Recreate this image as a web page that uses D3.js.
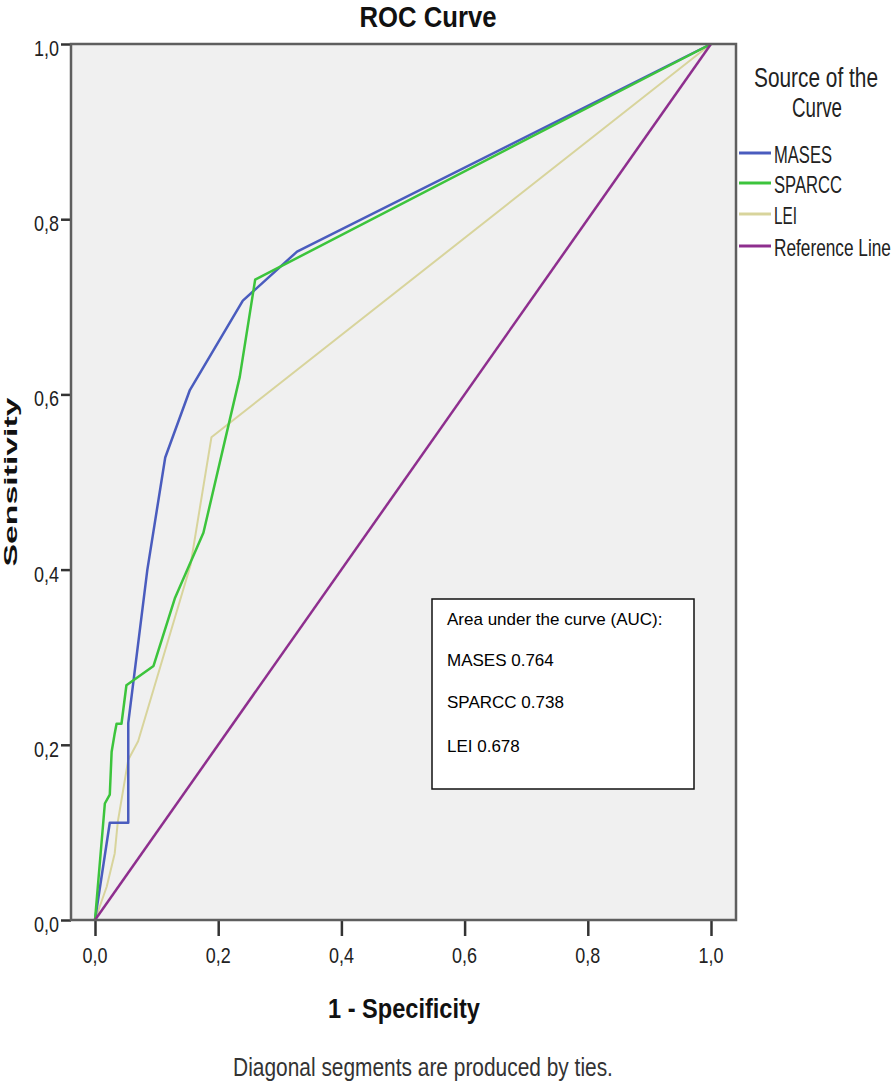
<!DOCTYPE html>
<html>
<head>
<meta charset="utf-8">
<script src="https://cdn.jsdelivr.net/npm/d3@7"></script>
<style>
  body { margin: 0; background: #fff; }
  svg { display: block; }
</style>
</head>
<body>
<div id="chart"></div>
<script>
// Datos de las curvas ROC (1 - especificidad, sensibilidad)
const masesX = [0, 0.024, 0.054, 0.054, 0.085, 0.114, 0.154, 0.240, 0.328, 1.0];
const masesY = [0, 0.111, 0.111, 0.225, 0.400, 0.528, 0.605, 0.707, 0.763, 1.0];

const sparccX = [0, 0.016, 0.024, 0.027, 0.032, 0.035, 0.043, 0.051, 0.095, 0.130, 0.176, 0.235, 0.260, 1.0];
const sparccY = [0, 0.133, 0.143, 0.192, 0.213, 0.224, 0.224, 0.268, 0.290, 0.368, 0.442, 0.620, 0.731, 1.0];

const leiX = [0, 0.019, 0.032, 0.037, 0.054, 0.070, 0.155, 0.189, 1.0];
const leiY = [0, 0.038, 0.076, 0.112, 0.183, 0.204, 0.405, 0.551, 1.0];

const refX = [0, 1];
const refY = [0, 1];

const seriesNames = ['MASES', 'SPARCC', 'LEI', 'Reference Line'];
const seriesColors = ['#4a5cbe', '#3cc43c', '#d8d49c', '#8e2f8e'];
const aucLines = ['Area under the curve (AUC):', 'MASES 0.764', 'SPARCC 0.738', 'LEI 0.678'];
const tickValues = [0, 0.2, 0.4, 0.6, 0.8, 1.0];

const width = 895, height = 1085;
const narrow = "'Liberation Sans Narrow', 'Arial Narrow', 'Liberation Sans', Arial, sans-serif";
const regular = "'Liberation Sans', Arial, sans-serif";

const svg = d3.select('#chart').append('svg')
  .attr('width', width)
  .attr('height', height);

// Marco del gráfico
const frame = { left: 71, top: 44, right: 736, bottom: 920 };

const x = d3.scaleLinear().domain([0, 1]).range([95, 711]);
const y = d3.scaleLinear().domain([0, 1]).range([920, 44]);

svg.append('rect')
  .attr('x', frame.left).attr('y', frame.top)
  .attr('width', frame.right - frame.left)
  .attr('height', frame.bottom - frame.top)
  .attr('fill', '#f0f0f0');

const fmt = d => d3.format('.1f')(d).replace('.', ',');

// Texto condensado: se mide y se escala en horizontal hasta el ancho deseado
const addText = (parent, t, opts) => {
  const g = parent.append('g');
  const el = g.append('text')
    .attr('x', 0).attr('y', 0)
    .attr('text-anchor', opts.anchor || 'middle')
    .attr('font-family', opts.family || narrow)
    .attr('font-size', opts.size)
    .attr('font-weight', opts.bold ? 'bold' : 'normal')
    .attr('fill', opts.fill || '#111')
    .text(t);
  let sx = 1;
  if (opts.len) {
    const natural = el.node().getComputedTextLength();
    if (natural > 0) sx = opts.len / natural;
  }
  const rot = opts.rotate ? ' rotate(-90)' : '';
  g.attr('transform', `translate(${opts.x},${opts.y})${rot} scale(${sx},1)`);
  return el;
};

// Ejes
const xAxis = svg.append('g')
  .attr('transform', `translate(0,${frame.bottom})`)
  .call(d3.axisBottom(x).tickValues(tickValues).tickSize(16).tickFormat(''));
xAxis.select('.domain').remove();
xAxis.selectAll('line').attr('stroke', '#333').attr('stroke-width', 2.5);
tickValues.forEach(v => {
  addText(svg, fmt(v), { x: x(v), y: 963, size: 22, len: 25, fill: '#222' });
});

const yAxis = svg.append('g')
  .attr('transform', `translate(${frame.left},0)`)
  .call(d3.axisLeft(y).tickValues(tickValues).tickSize(10).tickFormat(''));
yAxis.select('.domain').remove();
yAxis.selectAll('line').attr('stroke', '#333').attr('stroke-width', 2.5);
tickValues.forEach(v => {
  addText(svg, fmt(v), { x: 59, y: y(v) + 12, size: 22, len: 25, anchor: 'end', fill: '#222' });
});

// Curvas
const series = [
  { xs: masesX, ys: masesY, w: 2.5 },
  { xs: sparccX, ys: sparccY, w: 2.5 },
  { xs: leiX, ys: leiY, w: 2 },
  { xs: refX, ys: refY, w: 2.5 }
];
const line = d3.line().x(d => x(d[0])).y(d => y(d[1]));
const drawOrder = [2, 0, 1, 3];
drawOrder.forEach(i => {
  const s = series[i];
  svg.append('path')
    .datum(d3.zip(s.xs, s.ys))
    .attr('d', line)
    .attr('fill', 'none')
    .attr('stroke', seriesColors[i])
    .attr('stroke-width', s.w)
    .attr('stroke-linejoin', 'round');
});

// Borde del marco
svg.append('rect')
  .attr('x', frame.left).attr('y', frame.top)
  .attr('width', frame.right - frame.left)
  .attr('height', frame.bottom - frame.top)
  .attr('fill', 'none')
  .attr('stroke', '#5e5e5e')
  .attr('stroke-width', 2.5);

// Caja AUC
svg.append('rect')
  .attr('x', 432).attr('y', 599)
  .attr('width', 262).attr('height', 190)
  .attr('fill', '#fff')
  .attr('stroke', '#111')
  .attr('stroke-width', 1.5);
const aucBase = [625, 666, 708, 752];
aucLines.forEach((t, i) => {
  svg.append('text')
    .attr('x', 447).attr('y', aucBase[i])
    .attr('font-family', regular).attr('font-size', 17)
    .attr('fill', '#000')
    .text(t);
});

// Títulos
addText(svg, 'ROC Curve', { x: 428, y: 27, size: 30, bold: true, len: 137 });
addText(svg, '1 - Specificity', { x: 404, y: 1018, size: 28, bold: true, len: 152 });
addText(svg, 'Diagonal segments are produced by ties.', { x: 423, y: 1076, size: 26, len: 380, fill: '#333' });
addText(svg, 'Sensitivity', { x: 17, y: 482, size: 19, bold: true, len: 169, family: regular, rotate: true });

// Leyenda
addText(svg, 'Source of the', { x: 816, y: 87, size: 27, len: 124, fill: '#222' });
addText(svg, 'Curve', { x: 817, y: 117, size: 27, len: 50, fill: '#222' });

const legendLineY = [153, 183, 214, 246];
const legendTextLen = [58, 68, 23, 117];
seriesNames.forEach((name, i) => {
  svg.append('line')
    .attr('x1', 739).attr('x2', 771)
    .attr('y1', legendLineY[i]).attr('y2', legendLineY[i])
    .attr('stroke', seriesColors[i])
    .attr('stroke-width', 3);
  addText(svg, name, { x: 774, y: legendLineY[i] + 10, size: 23, anchor: 'start', len: legendTextLen[i], fill: '#222' });
});
</script>
</body>
</html>
